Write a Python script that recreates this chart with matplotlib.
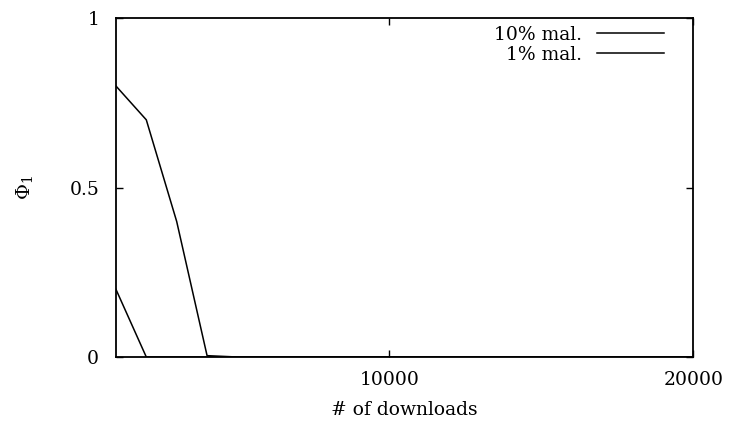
import matplotlib
matplotlib.use('Agg')
import matplotlib.pyplot as plt

# data
downloads = [1000, 1500, 2000, 3000, 4000, 5000, 6000, 8000, 10000, 15000, 20000]
mal10 = [0.8, 0.75, 0.7, 0.4, 0.004, 0.0, 0.0, 0.0, 0.0, 0.0, 0.0]
mal1 = [0.2, 0.1, 0.0, 0.0, 0.0, 0.0, 0.0, 0.0, 0.0, 0.0, 0.0]
xticks = [10000, 20000]
yticks = [0, 0.5, 1]
yticklabels = ['0', '0.5', '1']

plt.rcParams['font.family'] = ['DejaVu Serif']
plt.rcParams['mathtext.fontset'] = 'dejavuserif'

fig = plt.figure(figsize=(7.29, 4.23), dpi=100)
ax = fig.add_axes([0.159, 0.156, 0.792, 0.801])

ax.plot(downloads, mal10, color='black', lw=1.1, label='10% mal.')
ax.plot(downloads, mal1, color='black', lw=1.1, label='1% mal.')

ax.set_xlim(1000, 20000)
ax.set_ylim(0, 1)
ax.set_xticks(xticks)
ax.set_yticks(yticks)
ax.set_yticklabels(yticklabels)
ax.tick_params(direction='in', length=5, width=1, top=True, right=True,
               labelsize=13.5, colors='black')
ax.tick_params(axis='x', pad=10)
ax.tick_params(axis='y', pad=12)
for s in ax.spines.values():
    s.set_linewidth(1.3)

ax.set_xlabel('# of downloads', fontsize=13.5, labelpad=9)
ax.set_ylabel(r'$\Phi_1$', fontsize=14, labelpad=25)

ax.legend(loc='upper right', frameon=False, markerfirst=False, fontsize=13.5,
          handlelength=3.6, labelspacing=0.1, borderaxespad=0.0,
          handletextpad=0.8, bbox_to_anchor=(0.963, 1.0))

fig.savefig('out.png', dpi=100)
